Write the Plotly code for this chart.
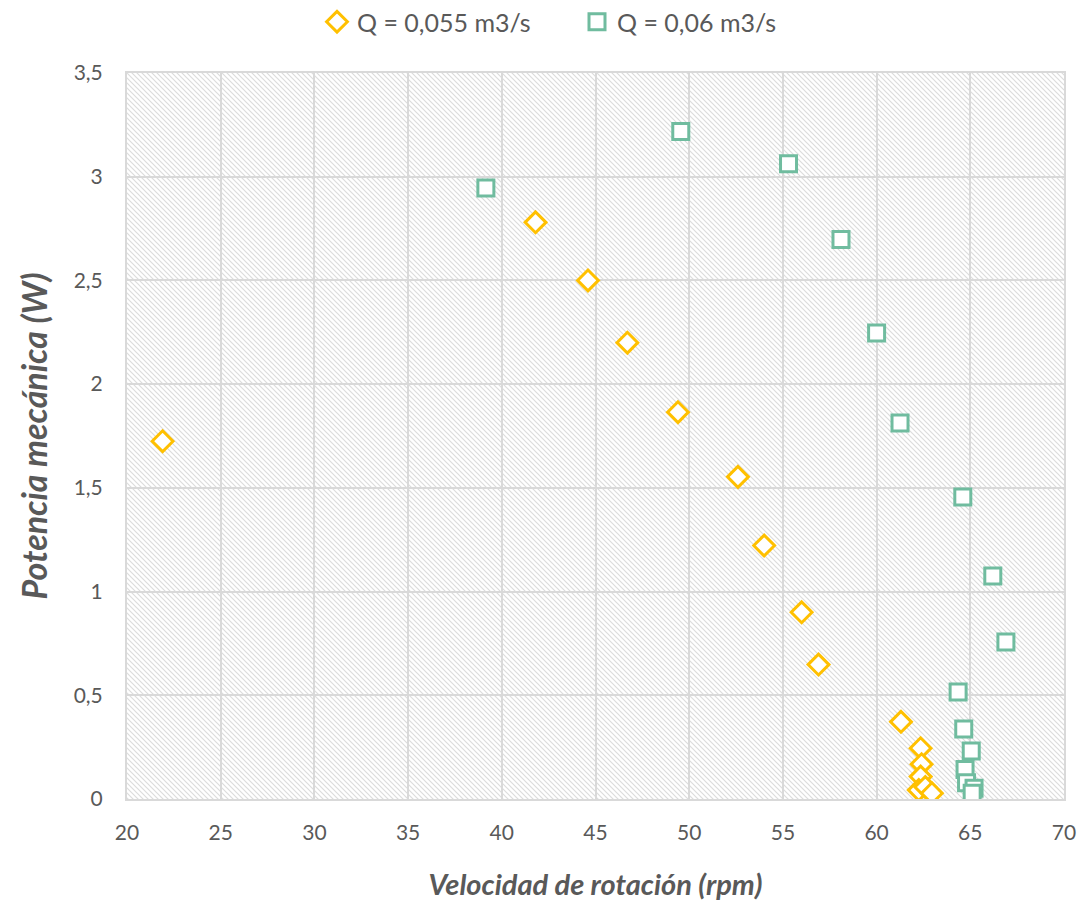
import plotly.graph_objects as go
import base64

# Data
rpm_055 = [21.9, 41.8, 44.6, 46.7, 49.4, 52.6, 54.0, 56.0, 56.9, 61.3,
           62.35, 62.4, 62.35, 62.25, 62.6, 62.95]
pot_055 = [1.725, 2.78, 2.50, 2.20, 1.865, 1.553, 1.222, 0.90, 0.648, 0.372,
           0.245, 0.168, 0.108, 0.043, 0.058, 0.028]
rpm_060 = [39.15, 49.55, 55.3, 58.1, 60.0, 61.25, 64.6, 66.2, 66.9, 64.35,
           64.65, 65.05, 64.72, 64.8, 65.2, 65.1]
pot_060 = [2.946, 3.218, 3.062, 2.697, 2.247, 1.813, 1.456, 1.075, 0.757, 0.516,
           0.338, 0.232, 0.142, 0.078, 0.052, 0.028]

names = ["Q = 0,055 m3/s", "Q = 0,06 m3/s"]
x_ticks = [20, 25, 30, 35, 40, 45, 50, 55, 60, 65, 70]
y_ticks = [0, 0.5, 1, 1.5, 2, 2.5, 3, 3.5]

ORANGE = "#FFC000"
GREEN = "#70BC9F"
GREY = "#595959"
FONT = "Lato"

W, H = 1080, 901
ML, MR, MT, MB = 127, 16, 73, 102
PW, PH = W - ML - MR, H - MT - MB

svg = f'''<svg xmlns="http://www.w3.org/2000/svg" width="{PW}" height="{PH}">
<defs><pattern id="p" patternUnits="userSpaceOnUse" width="5" height="5">
<path d="M-1,-1 L6,6 M-1,4 L1,6 M4,-1 L6,1" stroke="#dcdcdc" stroke-width="1.2"/>
</pattern></defs>
<rect width="{PW}" height="{PH}" fill="white"/>
<rect width="{PW}" height="{PH}" fill="url(#p)"/>
</svg>'''
src = "data:image/svg+xml;base64," + base64.b64encode(svg.encode()).decode()

fig = go.Figure()
fig.add_trace(go.Scatter(
    x=rpm_055, y=pot_055, mode="markers", name=names[0],
    marker=dict(symbol="diamond", size=16, color="white",
                line=dict(color=ORANGE, width=3))))
fig.add_trace(go.Scatter(
    x=rpm_060, y=pot_060, mode="markers", name=names[1],
    marker=dict(symbol="square", size=16, color="white",
                line=dict(color=GREEN, width=3))))

fig.add_layout_image(dict(source=src, xref="paper", yref="paper", x=0, y=1,
                          sizex=1, sizey=1, xanchor="left", yanchor="top",
                          sizing="stretch", layer="below"))

axis_common = dict(showgrid=True, gridcolor="#d9d9d9", gridwidth=2,
                   showline=True, linecolor="#d9d9d9", linewidth=2, mirror=True,
                   zeroline=False, ticks="", automargin=False,
                   tickfont=dict(family=FONT, size=21, color=GREY))

fig.update_layout(
    width=W, height=H,
    margin=dict(l=ML, r=MR, t=MT, b=MB, autoexpand=False),
    paper_bgcolor="white", plot_bgcolor="rgba(0,0,0,0)",
    separators=",.",
    font=dict(family=FONT, color=GREY),
    showlegend=True,
    legend=dict(orientation="h", xref="container", x=317 / W, xanchor="left",
                yref="container", y=1 - 22 / H, yanchor="middle",
                font=dict(family=FONT, size=25, color=GREY),
                itemwidth=30, tracegroupgap=0,
                entrywidth=215, entrywidthmode="pixels"),
    xaxis=dict(range=[20, 70], tickvals=x_ticks, **axis_common,
               title=dict(text="<b><i>Velocidad de rotación (rpm)</i></b>",
                          font=dict(family=FONT, size=29, color=GREY),
                          standoff=34)),
    yaxis=dict(range=[0, 3.5], tickvals=y_ticks, **axis_common,
               title=dict(text="<b><i>Potencia mecánica (W)</i></b>",
                          font=dict(family=FONT, size=34, color=GREY),
                          standoff=16)),
)
fig.update_xaxes(ticklabelstandoff=14)
fig.update_yaxes(ticklabelstandoff=18)

fig.write_html("out.html", config={"displayModeBar": False},
               post_script="document.body.style.margin='0px';")
